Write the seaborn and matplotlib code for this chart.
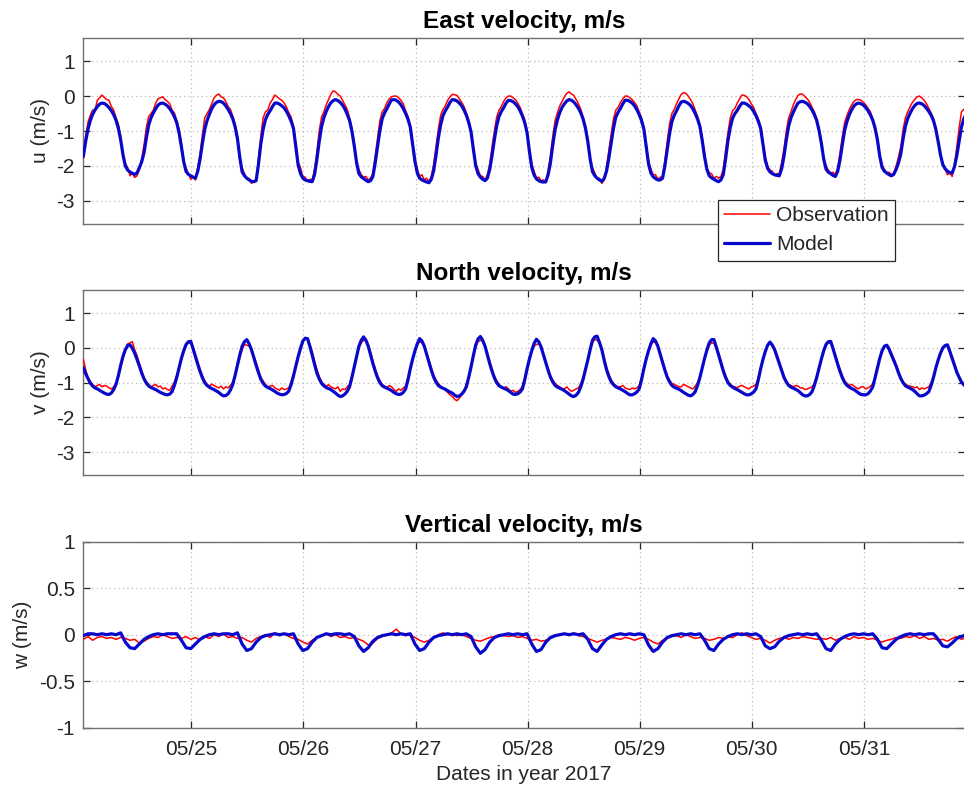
import numpy as np
import pandas as pd
import matplotlib
matplotlib.use("Agg")
import matplotlib.pyplot as plt
import matplotlib.dates as mdates
from matplotlib.lines import Line2D
import seaborn as sns

# ---------------- data ----------------
start_time = "2017-05-24 00:53"
uv_step_hours = 0.5      # u, v sampled every 30 min
w_step_hours = 1.0       # w sampled hourly
xlim_span_hours = 188.75

u_obs = [
    -1.78, -1.15, -0.75, -0.55, -0.40, -0.42, -0.12, -0.05, 0.03, -0.04,
    -0.10, -0.12, -0.30, -0.40, -0.62, -0.80, -1.15, -1.75, -1.92, -2.05,
    -2.28, -2.20, -2.33, -2.28, -2.10, -1.80, -1.40, -0.90, -0.58, -0.50,
    -0.40, -0.20, -0.08, -0.05, -0.02, -0.10, -0.15, -0.22, -0.40, -0.48,
    -0.70, -0.95, -1.35, -1.90, -2.05, -2.22, -2.38, -2.30, -2.40, -2.05,
    -1.65, -1.10, -0.62, -0.50, -0.38, -0.22, -0.05, 0.02, 0.06, -0.02,
    -0.05, -0.15, -0.30, -0.38, -0.58, -0.80, -1.15, -1.85, -2.05, -2.22,
    -2.38, -2.35, -2.50, -2.42, -2.42, -1.80, -1.15, -0.62, -0.45, -0.40,
    -0.20, -0.10, 0.03, -0.02, -0.08, -0.12, -0.20, -0.32, -0.48, -0.60,
    -0.88, -1.40, -1.90, -2.05, -2.30, -2.32, -2.45, -2.38, -2.40, -2.10,
    -1.60, -1.00, -0.60, -0.45, -0.25, -0.10, 0.05, 0.15, 0.12, 0.05,
    0.00, -0.12, -0.25, -0.38, -0.62, -0.92, -1.35, -1.95, -2.10, -2.25,
    -2.32, -2.30, -2.40, -2.35, -2.20, -1.70, -1.20, -0.70, -0.45, -0.35,
    -0.18, -0.08, -0.02, 0.00, 0.00, -0.05, -0.12, -0.22, -0.42, -0.58,
    -0.85, -1.30, -1.80, -2.10, -2.30, -2.25, -2.40, -2.35, -2.45, -2.30,
    -1.95, -1.45, -0.95, -0.55, -0.38, -0.28, -0.12, -0.02, 0.05, 0.04,
    0.02, -0.08, -0.18, -0.30, -0.48, -0.68, -0.98, -1.45, -1.92, -2.10,
    -2.28, -2.30, -2.40, -2.25, -1.95, -1.45, -1.00, -0.60, -0.40, -0.30,
    -0.15, -0.05, 0.00, 0.00, -0.05, -0.10, -0.20, -0.32, -0.50, -0.68,
    -1.00, -1.50, -1.95, -2.15, -2.35, -2.32, -2.42, -2.40, -2.48, -2.15,
    -1.70, -1.15, -0.70, -0.48, -0.28, -0.15, -0.02, 0.08, 0.12, 0.06,
    0.02, -0.10, -0.22, -0.38, -0.60, -0.85, -1.22, -1.85, -2.05, -2.20,
    -2.38, -2.35, -2.50, -2.40, -2.05, -1.55, -1.10, -0.65, -0.40, -0.32,
    -0.18, -0.08, 0.00, 0.00, -0.05, -0.10, -0.18, -0.28, -0.45, -0.62,
    -0.90, -1.40, -1.85, -2.08, -2.25, -2.25, -2.38, -2.32, -2.30, -1.85,
    -1.30, -0.80, -0.50, -0.38, -0.22, -0.08, 0.05, 0.10, 0.08, 0.00,
    -0.10, -0.22, -0.40, -0.58, -0.82, -1.20, -1.65, -2.05, -2.20, -2.22,
    -2.35, -2.30, -2.35, -2.30, -2.10, -1.55, -1.05, -0.62, -0.42, -0.35,
    -0.20, -0.08, 0.03, 0.02, -0.02, -0.10, -0.22, -0.32, -0.50, -0.65,
    -0.88, -1.30, -1.75, -2.00, -2.12, -2.15, -2.28, -2.22, -2.22, -1.90,
    -1.50, -1.00, -0.62, -0.45, -0.25, -0.10, 0.02, 0.06, 0.05, -0.02,
    -0.08, -0.18, -0.32, -0.45, -0.65, -0.92, -1.28, -1.85, -2.00, -2.12,
    -2.20, -2.18, -2.25, -2.05, -1.62, -1.15, -0.75, -0.55, -0.38, -0.25,
    -0.15, -0.10, -0.10, -0.12, -0.18, -0.25, -0.35, -0.45, -0.65, -0.85,
    -1.20, -1.70, -1.98, -2.10, -2.22, -2.18, -2.25, -2.20, -2.00, -1.75,
    -1.45, -0.95, -0.62, -0.45, -0.30, -0.18, -0.10, -0.02, 0.00, -0.05,
    -0.12, -0.22, -0.35, -0.48, -0.65, -0.90, -1.25, -1.70, -1.92, -2.10,
    -2.25, -2.20, -2.30, -1.95, -1.45, -0.90, -0.45, -0.38, -0.35,
]
u_model = [
    -1.73, -1.30, -0.95, -0.70, -0.52, -0.40, -0.30, -0.23, -0.20, -0.21,
    -0.26, -0.33, -0.42, -0.53, -0.69, -0.92, -1.25, -1.68, -2.00, -2.12,
    -2.17, -2.21, -2.24, -2.20, -2.05, -1.88, -1.62, -1.20, -0.83, -0.62,
    -0.48, -0.36, -0.26, -0.21, -0.20, -0.23, -0.28, -0.36, -0.46, -0.59,
    -0.76, -1.05, -1.45, -1.88, -2.16, -2.24, -2.28, -2.32, -2.35, -2.15,
    -1.80, -1.35, -0.95, -0.70, -0.52, -0.36, -0.25, -0.18, -0.15, -0.16,
    -0.20, -0.28, -0.38, -0.50, -0.65, -0.88, -1.22, -1.75, -2.17, -2.28,
    -2.35, -2.40, -2.44, -2.45, -2.42, -1.95, -1.37, -0.95, -0.67, -0.52,
    -0.42, -0.30, -0.20, -0.20, -0.23, -0.28, -0.34, -0.44, -0.57, -0.72,
    -0.93, -1.45, -1.98, -2.22, -2.35, -2.40, -2.42, -2.44, -2.45, -2.25,
    -1.82, -1.30, -0.88, -0.62, -0.44, -0.30, -0.19, -0.13, -0.10, -0.13,
    -0.18, -0.26, -0.37, -0.52, -0.70, -1.00, -1.42, -1.90, -2.22, -2.31,
    -2.36, -2.41, -2.45, -2.42, -2.30, -1.90, -1.43, -0.98, -0.64, -0.48,
    -0.36, -0.22, -0.11, -0.10, -0.12, -0.17, -0.25, -0.36, -0.50, -0.66,
    -0.89, -1.38, -1.87, -2.20, -2.35, -2.40, -2.43, -2.46, -2.48, -2.38,
    -2.14, -1.70, -1.21, -0.82, -0.56, -0.42, -0.31, -0.18, -0.10, -0.11,
    -0.14, -0.20, -0.28, -0.40, -0.55, -0.75, -1.02, -1.52, -1.99, -2.22,
    -2.32, -2.38, -2.42, -2.35, -2.10, -1.70, -1.25, -0.85, -0.58, -0.44,
    -0.33, -0.20, -0.12, -0.13, -0.16, -0.22, -0.30, -0.42, -0.57, -0.76,
    -1.05, -1.58, -2.04, -2.26, -2.37, -2.42, -2.45, -2.46, -2.45, -2.25,
    -1.91, -1.40, -0.96, -0.68, -0.47, -0.32, -0.22, -0.14, -0.10, -0.12,
    -0.17, -0.25, -0.35, -0.48, -0.66, -0.92, -1.30, -1.80, -2.16, -2.28,
    -2.35, -2.40, -2.44, -2.36, -2.15, -1.78, -1.35, -0.92, -0.60, -0.46,
    -0.35, -0.22, -0.12, -0.12, -0.15, -0.20, -0.28, -0.39, -0.53, -0.70,
    -0.94, -1.45, -1.94, -2.20, -2.31, -2.36, -2.40, -2.40, -2.35, -2.00,
    -1.53, -1.08, -0.73, -0.55, -0.42, -0.28, -0.17, -0.15, -0.17, -0.21,
    -0.27, -0.37, -0.50, -0.66, -0.87, -1.28, -1.74, -2.10, -2.28, -2.34,
    -2.38, -2.42, -2.45, -2.40, -2.25, -1.80, -1.28, -0.90, -0.63, -0.50,
    -0.41, -0.29, -0.20, -0.20, -0.23, -0.28, -0.34, -0.44, -0.56, -0.72,
    -0.92, -1.38, -1.84, -2.07, -2.17, -2.22, -2.25, -2.27, -2.28, -2.08,
    -1.72, -1.25, -0.86, -0.62, -0.46, -0.32, -0.20, -0.16, -0.15, -0.18,
    -0.22, -0.30, -0.40, -0.53, -0.70, -0.98, -1.35, -1.80, -2.09, -2.18,
    -2.22, -2.27, -2.30, -2.15, -1.82, -1.38, -0.97, -0.72, -0.53, -0.39,
    -0.28, -0.22, -0.20, -0.22, -0.26, -0.33, -0.42, -0.54, -0.69, -0.92,
    -1.25, -1.72, -2.04, -2.15, -2.20, -2.25, -2.28, -2.24, -2.10, -1.92,
    -1.66, -1.22, -0.86, -0.64, -0.49, -0.36, -0.27, -0.21, -0.20, -0.22,
    -0.27, -0.35, -0.44, -0.55, -0.70, -0.95, -1.30, -1.68, -1.96, -2.08,
    -2.15, -2.19, -2.20, -2.02, -1.70, -1.28, -0.88, -0.65, -0.50,
]
v_obs = [
    -0.33, -0.62, -0.85, -0.98, -1.05, -1.12, -1.08, -1.05, -1.12, -1.08,
    -1.10, -1.15, -1.18, -1.12, -1.02, -0.80, -0.55, -0.30, -0.05, 0.12,
    0.15, 0.18, -0.05, -0.22, -0.45, -0.65, -0.88, -0.98, -1.05, -1.12,
    -1.08, -1.05, -1.12, -1.10, -1.18, -1.15, -1.20, -1.22, -1.10, -0.98,
    -0.80, -0.55, -0.25, -0.05, 0.08, 0.15, 0.13, 0.02, -0.20, -0.40,
    -0.62, -0.80, -0.95, -1.05, -1.10, -1.04, -1.08, -1.12, -1.15, -1.10,
    -1.18, -1.12, -1.15, -1.08, -0.98, -0.78, -0.52, -0.28, -0.05, 0.10,
    0.08, 0.05, -0.05, -0.22, -0.42, -0.65, -0.85, -0.95, -1.05, -1.12,
    -1.10, -1.08, -1.15, -1.18, -1.22, -1.15, -1.20, -1.18, -1.15, -0.98,
    -0.75, -0.48, -0.20, 0.02, 0.18, 0.28, 0.25, 0.10, -0.12, -0.38,
    -0.62, -0.82, -0.98, -1.05, -1.10, -1.06, -1.12, -1.15, -1.18, -1.12,
    -1.25, -1.18, -1.20, -1.12, -1.05, -0.80, -0.52, -0.25, 0.00, 0.15,
    0.22, 0.25, 0.10, -0.12, -0.38, -0.60, -0.80, -0.95, -1.05, -1.10,
    -1.15, -1.08, -1.12, -1.20, -1.25, -1.18, -1.22, -1.15, -1.10, -0.85,
    -0.55, -0.30, -0.08, 0.10, 0.18, 0.15, 0.05, -0.15, -0.35, -0.58,
    -0.78, -0.92, -1.02, -1.10, -1.15, -1.22, -1.28, -1.35, -1.40, -1.48,
    -1.52, -1.45, -1.35, -1.22, -1.05, -0.82, -0.55, -0.25, 0.02, 0.18,
    0.22, 0.20, 0.08, -0.15, -0.38, -0.60, -0.80, -0.95, -1.05, -1.12,
    -1.15, -1.12, -1.18, -1.25, -1.22, -1.28, -1.25, -1.20, -1.10, -0.85,
    -0.58, -0.32, -0.10, 0.05, 0.10, 0.12, 0.02, -0.18, -0.38, -0.60,
    -0.80, -0.92, -1.02, -1.08, -1.12, -1.18, -1.18, -1.12, -1.20, -1.25,
    -1.22, -1.18, -1.15, -1.02, -0.85, -0.60, -0.32, -0.05, 0.15, 0.25,
    0.22, 0.15, 0.00, -0.28, -0.55, -0.75, -0.92, -1.02, -1.08, -1.12,
    -1.12, -1.08, -1.15, -1.18, -1.20, -1.15, -1.18, -1.15, -1.08, -0.85,
    -0.58, -0.32, -0.10, 0.08, 0.18, 0.15, 0.08, -0.15, -0.38, -0.60,
    -0.80, -0.92, -1.02, -1.05, -1.08, -1.12, -1.12, -1.05, -1.08, -1.12,
    -1.15, -1.18, -1.10, -1.00, -0.82, -0.55, -0.30, -0.08, 0.08, 0.15,
    0.13, 0.02, -0.15, -0.38, -0.60, -0.80, -0.95, -1.05, -1.10, -1.12,
    -1.15, -1.10, -1.08, -1.12, -1.15, -1.18, -1.12, -1.10, -1.05, -0.85,
    -0.58, -0.32, -0.10, 0.08, 0.13, 0.10, -0.02, -0.20, -0.40, -0.60,
    -0.80, -0.95, -1.05, -1.08, -1.12, -1.08, -1.10, -1.15, -1.15, -1.20,
    -1.18, -1.15, -1.12, -1.02, -0.82, -0.55, -0.30, -0.08, 0.08, 0.15,
    0.14, 0.00, -0.20, -0.42, -0.62, -0.80, -0.95, -1.02, -1.08, -1.05,
    -1.10, -1.15, -1.18, -1.12, -1.12, -1.18, -1.15, -1.10, -1.05, -0.82,
    -0.55, -0.30, -0.10, 0.05, 0.08, 0.02, -0.15, -0.30, -0.48, -0.68,
    -0.85, -0.98, -1.05, -1.08, -1.10, -1.12, -1.15, -1.12, -1.20, -1.15,
    -1.18, -1.15, -1.12, -1.00, -0.82, -0.58, -0.35, -0.15, 0.00, 0.08,
    0.05, -0.08, -0.25, -0.45, -0.68, -0.85, -1.00, -1.05, -1.08,
]
v_model = [
    -0.57, -0.74, -0.88, -1.01, -1.10, -1.15, -1.18, -1.22, -1.26, -1.30,
    -1.33, -1.34, -1.30, -1.20, -1.05, -0.80, -0.50, -0.24, -0.05, 0.07,
    0.09, -0.01, -0.15, -0.33, -0.52, -0.72, -0.89, -1.01, -1.10, -1.14,
    -1.17, -1.20, -1.24, -1.28, -1.31, -1.34, -1.35, -1.33, -1.26, -1.08,
    -0.85, -0.58, -0.30, -0.08, 0.10, 0.18, 0.19, -0.02, -0.25, -0.47,
    -0.68, -0.86, -1.00, -1.08, -1.13, -1.17, -1.20, -1.24, -1.28, -1.34,
    -1.38, -1.37, -1.32, -1.21, -1.05, -0.79, -0.50, -0.20, 0.05, 0.18,
    0.24, 0.12, -0.05, -0.28, -0.50, -0.71, -0.90, -1.02, -1.10, -1.14,
    -1.17, -1.21, -1.25, -1.30, -1.33, -1.35, -1.34, -1.31, -1.24, -1.05,
    -0.80, -0.52, -0.25, -0.01, 0.20, 0.28, 0.27, 0.05, -0.20, -0.47,
    -0.72, -0.89, -1.02, -1.09, -1.14, -1.17, -1.20, -1.25, -1.30, -1.36,
    -1.40, -1.38, -1.33, -1.25, -1.12, -0.85, -0.55, -0.24, 0.05, 0.22,
    0.32, 0.22, 0.05, -0.20, -0.45, -0.67, -0.86, -1.00, -1.09, -1.13,
    -1.16, -1.19, -1.23, -1.28, -1.32, -1.34, -1.33, -1.28, -1.18, -0.92,
    -0.60, -0.32, -0.08, 0.12, 0.27, 0.20, 0.05, -0.18, -0.42, -0.64,
    -0.84, -0.98, -1.08, -1.13, -1.16, -1.19, -1.23, -1.27, -1.30, -1.36,
    -1.40, -1.38, -1.33, -1.25, -1.12, -0.85, -0.55, -0.22, 0.08, 0.26,
    0.33, 0.22, 0.05, -0.20, -0.45, -0.67, -0.86, -1.00, -1.09, -1.13,
    -1.16, -1.19, -1.23, -1.28, -1.33, -1.34, -1.32, -1.27, -1.18, -0.92,
    -0.60, -0.32, -0.08, 0.13, 0.25, 0.18, 0.03, -0.20, -0.42, -0.64,
    -0.84, -0.98, -1.08, -1.13, -1.16, -1.19, -1.23, -1.28, -1.33, -1.38,
    -1.40, -1.36, -1.28, -1.12, -0.90, -0.63, -0.35, -0.05, 0.22, 0.32,
    0.34, 0.16, -0.05, -0.35, -0.62, -0.82, -0.97, -1.06, -1.12, -1.15,
    -1.18, -1.22, -1.26, -1.31, -1.35, -1.35, -1.32, -1.27, -1.18, -0.92,
    -0.60, -0.32, -0.08, 0.12, 0.27, 0.20, 0.05, -0.18, -0.42, -0.64,
    -0.84, -0.98, -1.08, -1.13, -1.16, -1.19, -1.23, -1.28, -1.32, -1.36,
    -1.38, -1.34, -1.26, -1.08, -0.85, -0.57, -0.30, -0.06, 0.15, 0.24,
    0.24, 0.03, -0.20, -0.44, -0.66, -0.85, -1.00, -1.08, -1.13, -1.17,
    -1.20, -1.24, -1.28, -1.32, -1.35, -1.35, -1.32, -1.27, -1.18, -0.92,
    -0.60, -0.33, -0.10, 0.08, 0.17, 0.08, -0.05, -0.25, -0.45, -0.66,
    -0.85, -0.98, -1.08, -1.13, -1.16, -1.19, -1.23, -1.29, -1.35, -1.38,
    -1.38, -1.34, -1.26, -1.08, -0.85, -0.58, -0.32, -0.08, 0.10, 0.18,
    0.19, -0.02, -0.25, -0.47, -0.68, -0.86, -1.00, -1.08, -1.13, -1.17,
    -1.20, -1.25, -1.30, -1.34, -1.35, -1.35, -1.32, -1.24, -1.12, -0.86,
    -0.58, -0.30, -0.08, 0.05, 0.08, -0.04, -0.20, -0.36, -0.52, -0.71,
    -0.88, -1.00, -1.09, -1.13, -1.16, -1.20, -1.25, -1.32, -1.38, -1.38,
    -1.36, -1.32, -1.26, -1.08, -0.85, -0.58, -0.35, -0.15, 0.00, 0.07,
    0.09, -0.10, -0.30, -0.50, -0.70, -0.85, -0.98, -1.06, -1.12,
]
w_obs = [
    -0.05, -0.02, -0.06, -0.03, -0.02, -0.04, -0.03, -0.05, -0.03, -0.04,
    -0.06, -0.05, -0.09, -0.07, -0.04, -0.02, -0.03, 0.00, -0.02, -0.04,
    -0.03, -0.04, -0.02, -0.05, -0.03, -0.06, -0.02, -0.04, 0.00, -0.02,
    0.01, -0.03, -0.02, -0.04, -0.03, -0.06, -0.08, -0.04, -0.02, 0.00,
    -0.03, 0.02, -0.01, 0.01, -0.02, -0.04, -0.05, -0.08, -0.10, -0.06,
    -0.03, -0.01, 0.01, -0.02, 0.00, -0.03, -0.02, -0.04, -0.03, -0.05,
    -0.07, -0.11, -0.09, -0.04, -0.02, 0.00, 0.02, 0.06, 0.01, -0.01,
    0.00, -0.03, -0.06, -0.08, -0.06, -0.03, 0.00, 0.02, 0.00, 0.01,
    -0.01, 0.00, -0.02, -0.04, -0.06, -0.07, -0.05, -0.03, -0.02, 0.00,
    -0.01, -0.02, -0.01, -0.03, -0.02, -0.04, -0.06, -0.05, -0.07, -0.06,
    -0.04, -0.02, 0.00, 0.01, -0.01, 0.02, -0.01, -0.02, -0.04, -0.06,
    -0.08, -0.06, -0.05, -0.03, -0.04, -0.05, -0.03, -0.04, -0.06, -0.04,
    -0.03, -0.05, -0.08, -0.10, -0.06, -0.04, -0.02, -0.01, -0.03, 0.00,
    -0.02, -0.04, -0.03, -0.04, -0.06, -0.05, -0.03, -0.04, -0.02, -0.03,
    0.00, 0.02, -0.01, -0.03, -0.05, -0.04, -0.06, -0.09, -0.06, -0.04,
    -0.03, -0.05, -0.03, -0.04, -0.02, -0.03, -0.04, -0.05, -0.04, -0.05,
    -0.03, -0.06, -0.04, -0.03, -0.05, -0.02, -0.04, -0.03, -0.05, -0.04,
    -0.06, -0.08, -0.06, -0.05, -0.03, -0.04, -0.02, -0.03, -0.01, -0.04,
    -0.02, -0.05, -0.04, -0.06, -0.05, -0.07, -0.04, -0.02, -0.05, -0.03,
]
w_model = [
    -0.01, 0.01, 0.01, 0.00, 0.01, 0.00, 0.01, 0.00, 0.02, -0.08,
    -0.14, -0.15, -0.10, -0.05, -0.02, 0.00, 0.01, 0.00, 0.01, 0.01,
    0.01, -0.06, -0.14, -0.15, -0.10, -0.05, -0.02, 0.00, 0.01, 0.00,
    0.01, 0.01, 0.00, 0.02, -0.10, -0.17, -0.15, -0.08, -0.03, -0.01,
    0.00, 0.01, 0.00, 0.01, 0.00, 0.01, -0.10, -0.17, -0.15, -0.08,
    -0.03, -0.01, 0.01, 0.00, 0.01, 0.01, 0.00, 0.01, -0.02, -0.12,
    -0.18, -0.14, -0.07, -0.03, -0.01, 0.00, 0.01, 0.00, 0.01, 0.00,
    0.01, -0.10, -0.17, -0.15, -0.08, -0.03, -0.01, 0.00, 0.01, 0.00,
    0.01, 0.00, 0.01, -0.02, -0.13, -0.20, -0.16, -0.08, -0.03, -0.01,
    0.00, 0.01, 0.00, 0.01, 0.00, 0.01, -0.10, -0.18, -0.16, -0.08,
    -0.03, -0.01, 0.00, 0.01, 0.00, 0.01, 0.00, 0.01, -0.05, -0.15,
    -0.18, -0.11, -0.05, -0.02, 0.00, 0.01, 0.00, 0.01, 0.00, 0.01,
    0.00, -0.11, -0.18, -0.15, -0.08, -0.03, -0.01, 0.00, 0.01, 0.00,
    0.01, 0.00, 0.01, -0.06, -0.15, -0.17, -0.10, -0.05, -0.02, 0.00,
    0.01, 0.00, 0.01, 0.00, 0.01, -0.02, -0.12, -0.15, -0.13, -0.07,
    -0.03, -0.01, 0.00, 0.01, 0.00, 0.01, 0.00, 0.01, -0.06, -0.15,
    -0.17, -0.10, -0.05, -0.02, 0.00, 0.01, 0.00, 0.01, 0.00, 0.01,
    -0.05, -0.14, -0.15, -0.10, -0.05, -0.02, 0.00, 0.01, 0.00, 0.01,
    0.00, 0.01, 0.01, -0.05, -0.12, -0.13, -0.09, -0.04, -0.02, 0.00,
]

panel_titles = ["East velocity, m/s", "North velocity, m/s", "Vertical velocity, m/s"]
y_labels = ["u (m/s)", "v (m/s)", "w (m/s)"]
uv_ticks = [-3, -2, -1, 0, 1]
uv_ticklabels = ["-3", "-2", "-1", "0", "1"]
w_ticks = [-1, -0.5, 0, 0.5, 1]
w_ticklabels = ["-1", "-0.5", "0", "0.5", "1"]
legend_labels = ["Observation", "Model"]
x_label = "Dates in year 2017"

# ---------------- style ----------------
sns.set_theme(style="white")
plt.rcParams["font.family"] = ["Liberation Sans", "DejaVu Sans"]
plt.rcParams["axes.unicode_minus"] = False

OBS_COLOR = "#ff0000"
MOD_COLOR = "#0808cc"
TXT = "#262626"
SPINE = "#707070"
GRID = "#bcbcbc"
TICK_FS = 15
TITLE_FS = 17.5

W, H = 964, 795
fig = plt.figure(figsize=(W / 100, H / 100), dpi=100)
fig.patch.set_facecolor("white")


def rect(l, t, r, b):
    return [l / W, 1 - b / H, (r - l) / W, (b - t) / H]


ax_rects = [rect(83.3, 37.7, 965, 224), rect(83.3, 290, 965, 475), rect(83.3, 541.7, 965, 727.7)]
series = [(u_obs, u_model, uv_step_hours), (v_obs, v_model, uv_step_hours), (w_obs, w_model, w_step_hours)]
t0 = pd.Timestamp(start_time)
x_lo = t0
x_hi = t0 + pd.Timedelta(hours=xlim_span_hours)

axes = []
for i, (r, (obs, mod, step)) in enumerate(zip(ax_rects, series)):
    ax = fig.add_axes(r)
    axes.append(ax)
    t_obs = t0 + pd.to_timedelta(np.arange(len(obs)) * step, unit="h")
    t_mod = t0 + pd.to_timedelta(np.arange(len(mod)) * step, unit="h")
    df_obs = pd.DataFrame({"time": t_obs, "value": obs})
    df_mod = pd.DataFrame({"time": t_mod, "value": mod})
    sns.lineplot(data=df_obs, x="time", y="value", ax=ax, color=OBS_COLOR,
                 linewidth=1.1, estimator=None, legend=False, zorder=3)
    sns.lineplot(data=df_mod, x="time", y="value", ax=ax, color=MOD_COLOR,
                 linewidth=2.3, estimator=None, legend=False, zorder=4)

    ax.set_xlim(x_lo, x_hi)
    if i < 2:
        ax.set_ylim(-3.66, 1.67)
        ax.set_yticks(uv_ticks)
        ax.set_yticklabels(uv_ticklabels)
    else:
        ax.set_ylim(-1, 1)
        ax.set_yticks(w_ticks)
        ax.set_yticklabels(w_ticklabels)

    ax.xaxis.set_major_locator(mdates.DayLocator())
    ax.xaxis.set_major_formatter(mdates.DateFormatter("%m/%d"))

    ax.set_facecolor("white")
    ax.grid(True, which="major", linestyle=(0, (1, 2.5)), color=GRID, linewidth=0.9)
    ax.set_axisbelow(True)
    for s in ax.spines.values():
        s.set_visible(True)
        s.set_color(SPINE)
        s.set_linewidth(1.0)
    ax.tick_params(axis="both", which="major", direction="in", length=5, width=0.9,
                   color=TXT, labelcolor=TXT, labelsize=TICK_FS,
                   top=True, right=True, left=True, bottom=True)
    ax.tick_params(axis="x", pad=9)
    ax.tick_params(axis="y", pad=6)
    if i < 2:
        ax.tick_params(axis="x", labelbottom=False)
    ax.set_xlabel("")
    ax.set_ylabel(y_labels[i], fontsize=TICK_FS, color=TXT, labelpad=5)
    ax.set_title(panel_titles[i], fontsize=TITLE_FS, fontweight="bold", color="black", pad=7)

axes[2].set_xlabel(x_label, fontsize=TICK_FS, color=TXT, labelpad=4)

handles = [Line2D([0], [0], color=OBS_COLOR, lw=1.1),
           Line2D([0], [0], color=MOD_COLOR, lw=2.3)]
leg = axes[0].legend(handles, legend_labels, loc="upper left",
                     bbox_to_anchor=(718 / W, 1 - 200 / H), bbox_transform=fig.transFigure,
                     borderaxespad=0, frameon=True, fancybox=False, fontsize=TICK_FS,
                     handlelength=2.2, handletextpad=0.3, borderpad=0.3, labelspacing=0.48)
leg.get_frame().set_edgecolor(TXT)
leg.get_frame().set_linewidth(0.9)
leg.get_frame().set_facecolor("white")
leg.get_frame().set_alpha(1)
leg.set_zorder(10)
for txt in leg.get_texts():
    txt.set_color(TXT)

fig.savefig("out.png", dpi=100, facecolor="white")
